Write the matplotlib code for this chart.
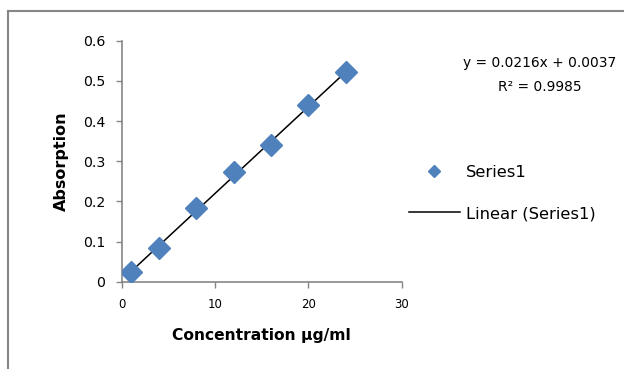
import matplotlib.pyplot as plt
from matplotlib.lines import Line2D

conc = [1, 4, 8, 12, 16, 20, 24]
absorption = [0.025, 0.083, 0.184, 0.274, 0.340, 0.441, 0.523]
slope, intercept = 0.0216, 0.0037
eq_text = "y = 0.0216x + 0.0037"
r2_text = "R² = 0.9985"
x_ticks = [0, 10, 20, 30]
y_ticks = [0, 0.1, 0.2, 0.3, 0.4, 0.5, 0.6]
y_tick_labels = ["0", "0.1", "0.2", "0.3", "0.4", "0.5", "0.6"]

plt.rcParams["font.family"] = ["DejaVu Sans"]

blue = "#4F81BD"
grey = "#868686"

fig = plt.figure(figsize=(6.24, 3.69), dpi=100)
ax = fig.add_axes([121.7 / 624, 1 - 281.7 / 369, 280 / 624, 241 / 369])

# linear trendline over the data range
fit_x = [min(conc), max(conc)]
fit_y = [slope * v + intercept for v in fit_x]
ax.plot(fit_x, fit_y, color="black", lw=1.1, zorder=2)
ax.plot(conc, absorption, ls="none", marker="D", ms=11, color=blue,
        mec=blue, zorder=3)

ax.set_xlim(0, 30)
ax.set_ylim(0, 0.6)
ax.set_xticks(x_ticks)
ax.set_yticks(y_ticks)
ax.set_yticklabels(y_tick_labels)
ax.tick_params(axis="x", labelsize=8.5, colors=grey, labelcolor="black",
               length=4, width=1, direction="out", pad=8)
ax.tick_params(axis="y", labelsize=10.2, colors=grey, labelcolor="black",
               length=4, width=1, direction="out", pad=8)
for side in ["top", "right"]:
    ax.spines[side].set_visible(False)
for side in ["left", "bottom"]:
    ax.spines[side].set_color(grey)
    ax.spines[side].set_linewidth(1.2)

ax.set_xlabel("Concentration μg/ml", fontsize=11.2, fontweight="bold", labelpad=12)
ax.set_ylabel("Absorption", fontsize=11.5, fontweight="bold", labelpad=10)

fig.text(540 / 624, 1 - 63 / 369, eq_text, fontsize=9.9, ha="center", va="center")
fig.text(540 / 624, 1 - 87 / 369, r2_text, fontsize=9.9, ha="center", va="center")

handles = [
    Line2D([], [], ls="none", marker="D", ms=6.2, color=blue, label="Series1"),
    Line2D([], [], color="black", lw=1.1, label="Linear (Series1)"),
]
fig.legend(handles=handles, loc="center left", bbox_to_anchor=(409 / 624, 1 - 193 / 369),
           frameon=False, fontsize=11.8, handlelength=3.1, handletextpad=0.4,
           labelspacing=1.6, borderpad=0, borderaxespad=0)

# outer chart border (cut off at right and bottom)
fig.add_artist(Line2D([7.5 / 624, 1], [1 - 11 / 369] * 2, color=grey, lw=1.5,
                      transform=fig.transFigure))
fig.add_artist(Line2D([7.5 / 624] * 2, [0, 1 - 11 / 369], color=grey, lw=1.5,
                      transform=fig.transFigure))

fig.savefig("out.png", dpi=100)
